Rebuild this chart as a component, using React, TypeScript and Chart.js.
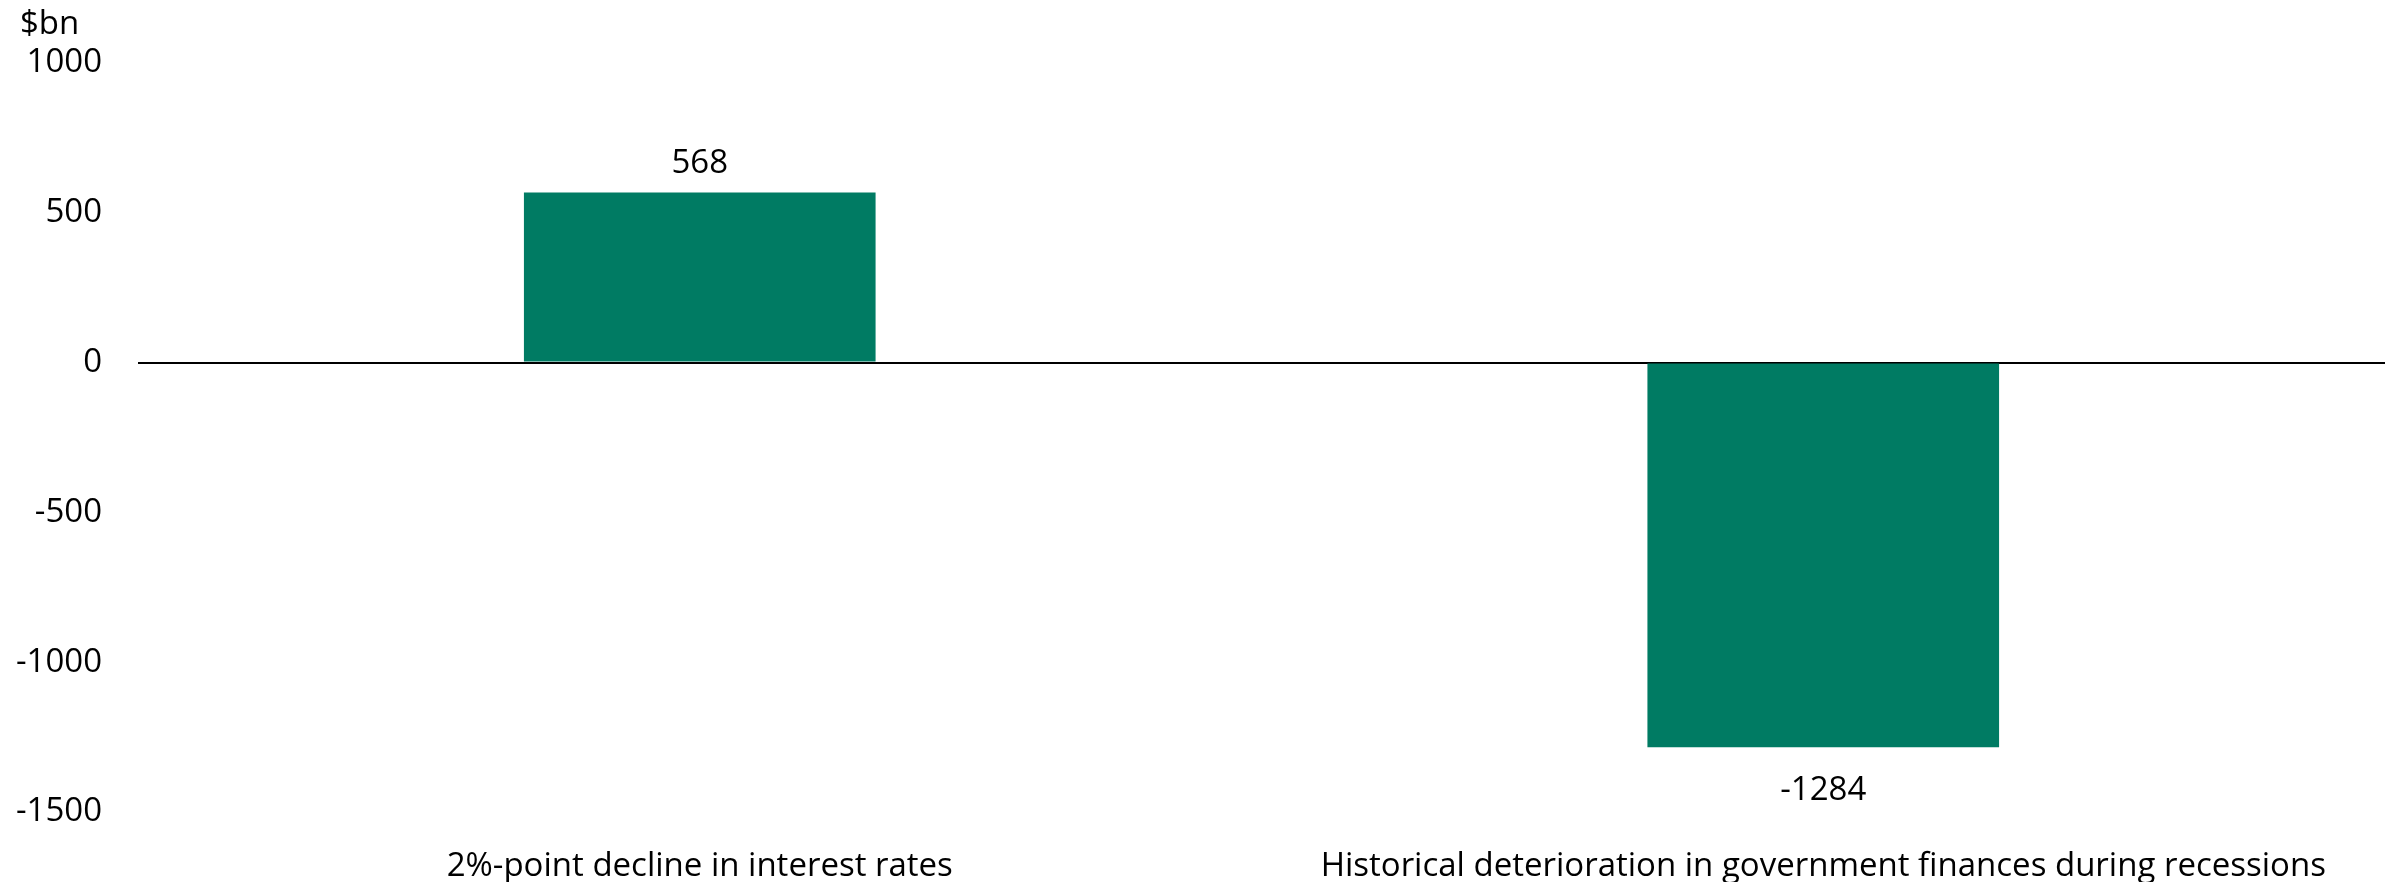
import React, { useEffect, useRef } from "react";
import { Chart, registerables } from "chart.js";

Chart.register(...registerables);

const categories = [
  "2%-point decline in interest rates",
  "Historical deterioration in government finances during recessions",
];
const values = [568, -1284];
const unitLabel = "$bn";
const yMin = -1500;
const yMax = 1000;
const yStep = 500;

const FONT = "'Open Sans', 'Noto Sans', sans-serif";
const FONT_SIZE = 33;
const BAR_COLOR = "#007B63";

const labelPlugin = {
  id: "valueLabels",
  afterDatasetsDraw(chart: any) {
    const ctx = chart.ctx;
    const meta = chart.getDatasetMeta(0);
    ctx.save();
    ctx.font = `${FONT_SIZE}px ${FONT}`;
    ctx.fillStyle = "#000";
    ctx.textAlign = "center";
    ctx.textBaseline = "middle";
    meta.data.forEach((bar: any, i: number) => {
      const v = values[i];
      const y = v >= 0 ? bar.y - 29 : bar.y + 43;
      ctx.fillText(String(v), bar.x, y);
    });
    ctx.textAlign = "left";
    ctx.fillText(unitLabel, 20, 25);
    ctx.restore();
  },
};

export default function App() {
  const ref = useRef<HTMLCanvasElement>(null);
  useEffect(() => {
    document.body.style.margin = "0";
    const chart = new Chart(ref.current!, {
      type: "bar",
      data: {
        labels: categories,
        datasets: [
          {
            data: values,
            backgroundColor: BAR_COLOR,
            barPercentage: 0.313,
            categoryPercentage: 1,
          },
        ],
      },
      options: {
        responsive: false,
        animation: false,
        layout: { padding: { top: 63, right: 9, left: 0, bottom: 0 } },
        plugins: { legend: { display: false }, tooltip: { enabled: false } },
        scales: {
          x: {
            grid: { display: false },
            border: { display: false },
            ticks: {
              color: "#000",
              font: { family: FONT, size: FONT_SIZE },
              padding: 27,
              maxRotation: 0,
              autoSkip: false,
            },
            afterFit(scale: any) {
              scale.height = 70;
            },
          },
          y: {
            min: yMin,
            max: yMax,
            border: { display: false },
            grid: {
              drawTicks: false,
              color: (c: any) => (c.tick && c.tick.value === 0 ? "#000" : "rgba(0,0,0,0)"),
              lineWidth: 2,
            },
            ticks: {
              stepSize: yStep,
              color: "#000",
              font: { family: FONT, size: FONT_SIZE },
              padding: 36,
              callback: (v: any) => String(v),
            },
            afterFit(scale: any) {
              scale.width = 138;
            },
          },
        },
      },
      plugins: [labelPlugin],
    });
    return () => chart.destroy();
  }, []);
  return <canvas ref={ref} width={2394} height={882} style={{ display: "block" }} />;
}
